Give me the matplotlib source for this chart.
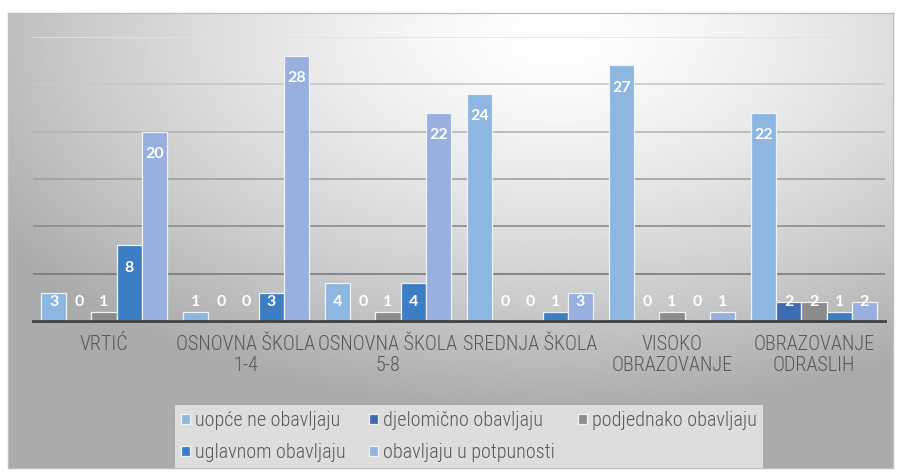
import numpy as np
import matplotlib.pyplot as plt
from matplotlib import font_manager

# data
categories = ['VRTIĆ', 'OSNOVNA ŠKOLA\n1-4', 'OSNOVNA ŠKOLA\n5-8', 'SREDNJA ŠKOLA',
              'VISOKO\nOBRAZOVANJE', 'OBRAZOVANJE\nODRASLIH']
series_names = ['uopće ne obavljaju', 'djelomično obavljaju', 'podjednako obavljaju',
                'uglavnom obavljaju', 'obavljaju u potpunosti']
uopce_ne = [3, 1, 4, 24, 27, 22]
djelomicno = [0, 0, 0, 0, 0, 2]
podjednako = [1, 0, 1, 0, 1, 2]
uglavnom = [8, 3, 4, 1, 0, 1]
u_potpunosti = [20, 28, 22, 3, 1, 2]
series = [uopce_ne, djelomicno, podjednako, uglavnom, u_potpunosti]
colors = ['#8db6e0', '#3f6bb0', '#8c8c8c', '#3d7dc4', '#98afdf']

names = {f.name for f in font_manager.fontManager.ttflist}
label_font = 'DejaVu Sans'
for cand in ['Roboto Condensed', 'Liberation Sans Narrow', 'Lato']:
    if cand in names:
        label_font = cand
        break
value_font = 'Lato' if 'Lato' in names else 'DejaVu Sans'
narrow = 'Condensed' in label_font or 'Narrow' in label_font
label_size = 14.5 if narrow else 11.5

fig = plt.figure(figsize=(9.01, 4.72), dpi=100)

# radial grey background like the excel chart area
bg = fig.add_axes([8 / 901, 4 / 472, 885 / 901, 455 / 472], zorder=-5)
yy, xx = np.mgrid[0:1:300j, 0:1:600j]
dist = np.sqrt(((xx - 0.62) / 1.0) ** 2 + ((yy - 0.05) / 1.1) ** 2)
shade = 1.0 - 0.33 * np.clip(dist / 0.75, 0, 1) ** 1.4
bg.imshow(shade, cmap='gray', vmin=0, vmax=1, aspect='auto', extent=(0, 1, 1, 0))
bg.set_xticks([])
bg.set_yticks([])
for s in bg.spines.values():
    s.set_color('#bfbfbf')
    s.set_linewidth(1)

ax = fig.add_axes([33 / 901, 151 / 472, 852 / 901, 284 / 472])
ax.patch.set_alpha(0)

x = np.arange(len(categories))
w = 0.177
handles = []
for j, (vals, col) in enumerate(zip(series, colors)):
    bars = ax.bar(x + (j - 2) * w, vals, width=w, color=col, edgecolor='#eef3fa',
                  linewidth=0.9, label=series_names[j])
    handles.append(bars)
    for xi, v in zip(x + (j - 2) * w, vals):
        ax.text(xi, max(v - 2.35, 2.05), str(v), ha='center', va='center',
                color='white', fontsize=11.5, fontweight='bold', family=value_font)

ax.set_ylim(0, 30)
ax.set_xlim(-0.5, 5.5)
ax.set_yticks(np.arange(0, 31, 5))
ax.set_yticklabels([])
ax.tick_params(axis='y', length=0)
ax.set_axisbelow(True)
ax.yaxis.grid(True, linewidth=1.2)
grid_cols = ['#ffffff', '#7a7a7a', '#8c8c8c', '#a0a0a0', '#b4b4b4', '#c8c8c8', '#e2e2e2']
for gl, gc in zip(ax.get_ygridlines(), grid_cols):
    gl.set_color(gc)

ax.set_xticks(x)
ax.set_xticklabels(categories, fontsize=label_size, color='#595959', family=label_font,
                   fontweight='light', linespacing=1.15)
ax.tick_params(axis='x', length=0, pad=10)
for side in ['top', 'right', 'left']:
    ax.spines[side].set_visible(False)
ax.spines['bottom'].set_color('#404040')
ax.spines['bottom'].set_linewidth(2)

# legend entries go row by row, so reorder for matplotlib's column filling
order = [0, 3, 1, 4, 2]
leg = fig.legend([handles[i] for i in order], [series_names[i] for i in order],
                 loc='upper left', bbox_to_anchor=(165 / 901, 1 - 395 / 472), ncol=3,
                 frameon=True, fancybox=False, facecolor='#e6e6e6', edgecolor='none',
                 framealpha=0.85, handlelength=0.45, handleheight=0.45, handletextpad=0.25,
                 columnspacing=1.15, labelspacing=0.65, borderpad=0.3,
                 prop={'family': label_font, 'size': label_size, 'weight': 'light'})
for t in leg.get_texts():
    t.set_color('#595959')

fig.savefig('out.png', dpi=100)
